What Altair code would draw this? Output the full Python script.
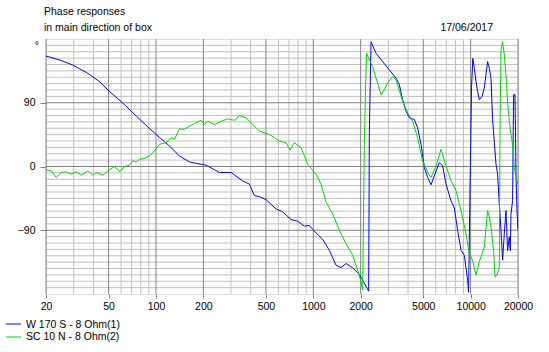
import altair as alt
import pandas as pd

# ---- data ----
blue_freq = [20, 24.4, 29.5, 36.2, 43.7, 50.6, 61.2, 75.2, 90.9, 105.2, 121.8, 141, 163.2, 208.4,
             253.2, 300.4, 354.3, 392.6, 422.5, 454.4, 501, 580, 636, 722, 792, 878, 944, 991,
             1147, 1265, 1395, 1501, 1616, 1779, 1962, 2059, 2183, 2248, 2271, 2328, 2505, 2759,
             3043, 3357, 3524, 3697, 3885, 4078, 4387, 4604, 4838, 5078, 5330, 5602, 5878, 6324,
             6637, 6977, 7508, 7877, 8267, 8688, 9116, 9568, 9707, 9880, 10130, 10325, 10554,
             10820, 11073, 11352, 11811, 12214, 12819, 13141, 13472, 13790, 14493, 14838, 15212,
             15596, 15964, 16366, 16778, 17174, 17606, 17868, 18049, 18478, 18750, 19137, 19422,
             19707, 20000]
blue_deg = [156.0, 150.4, 143.4, 132.6, 120.0, 106.0, 90.1, 70.9, 53.7, 41.1, 28.9, 14.9, 6.4, 1.8,
            -8.4, -8.4, -20.2, -24.8, -41.2, -42.6, -46.8, -59.9, -63.7, -74.9, -77.1, -84.1, -83.3,
            -88.9, -102.9, -118.3, -139.4, -142.6, -137.0, -143.0, -152.4, -160.4, -171.0, -176.0,
            47.7, 176.1, 159.8, 148.1, 136.4, 124.8, 115.4, 94.4, 78.0, 68.7, 66.3, 54.7, 31.3,
            -1.4, -15.4, -25.8, -13.2, 5.6, 0.8, -24.8, -48.6, -58.5, -90.3, -118.3, -125.3, -160.4,
            -177.6, -52.9, 111.2, 152.8, 138.8, 120.0, 106.0, 94.4, 99.0, 110.8, 148.1, 138.8, 124.8,
            66.3, 3.2, -10.8, -52.9, -90.3, -132.3, -94.9, -62.2, -118.7, -99.1, -118.7, -66.9,
            -48.2, 101.4, 101.4, -10.8, -62.2, -90.3]

green_freq = [20, 21.6, 23.2, 25.0, 26.9, 28.9, 31.1, 33.5, 36.9, 39.7, 41.7, 45.9, 50.6, 54.5,
              58.6, 63.1, 67.8, 71.2, 74.8, 78.5, 84.5, 90.9, 97.8, 105.2, 116.1, 124.9, 131.1,
              141.0, 151.7, 163.2, 175.6, 193.6, 203.2, 213.3, 235.3, 259.5, 285.8, 315.2, 339.2,
              374.2, 412.1, 454.4, 526, 609, 671, 712, 758, 836, 921, 1041, 1120, 1206, 1328, 1465,
              1616, 1779, 1914, 2012, 2059, 2110, 2151, 2183, 2271, 2384, 2505, 2696, 2829, 2968,
              3193, 3357, 3697, 3978, 4279, 4604, 4954, 5330, 5602, 6026, 6484, 6977, 7508, 8075,
              8688, 9346, 9808, 10295, 10820, 11352, 12214, 12819, 13141, 13472, 13996, 14290,
              14714, 15212, 15365, 15596, 15964, 16366, 16778, 17174, 17606, 18049, 18478, 18946,
              19422, 20000]
green_deg = [-4.8, -6.2, -15.4, -8.4, -7.6, -10.8, -7.6, -12.2, -6.2, -12.2, -8.4, -12.2, -4.8, 0.0,
             -7.6, 0.0, 1.8, 7.9, 6.4, 10.2, 11.2, 14.9, 21.9, 31.3, 33.6, 40.7, 38.3, 53.3, 52.3,
             56.9, 60.7, 65.3, 59.3, 63.9, 59.3, 63.9, 67.3, 65.3, 71.9, 68.7, 59.3, 49.9, 45.3,
             35.9, 33.6, 23.3, 33.6, 26.6, 3.2, -10.8, -24.8, -50.5, -66.9, -90.3, -108.9, -125.3,
             -146.3, -162.6, -174.4, 31.1, 115.4, 159.8, 150.4, 141.0, 124.8, 101.4, 108.4, 117.8,
             127.0, 122.4, 92.0, 75.7, 63.9, 40.7, 7.9, -8.4, -15.4, 0.8, 24.3, 0.8, -20.2, -34.2,
             -62.2, -94.9, -123.0, -132.4, -153.4, -134.6, -113.6, -62.2, -71.1, -85.5, -118.7,
             -155.6, -153.4, -141.6, 45.3, 164.5, 176.1, 157.4, 129.4, 92.0, 63.9, 45.3, 31.3,
             -1.4, -15.4, -24.8]

series_names = ["W 170 S - 8 Ohm(1)", "SC 10 N - 8 Ohm(2)"]
series_colors = ["#0000ff", "#00d800"]

x_major = [20, 50, 100, 200, 500, 1000, 2000, 5000, 10000, 20000]
x_minor = [30, 40, 60, 70, 80, 90, 300, 400, 600, 700, 800, 900,
           3000, 4000, 6000, 7000, 8000, 9000]
y_major = [-90, 0, 90]
y_minor = [v for v in range(-171, 180, 9) if v not in (-90, 0, 90)]

title_lines = ["Phase responses", "in main direction of box"]
date_text = "17/06/2017"
unit_text = "°"

FONT = "Liberation Sans"
FS = 10.5
W, H = 472, 255

df = pd.concat([
    pd.DataFrame({"freq": blue_freq, "deg": blue_deg, "series": series_names[0], "order": range(len(blue_freq))}),
    pd.DataFrame({"freq": green_freq, "deg": green_deg, "series": series_names[1], "order": range(len(green_freq))}),
])

xscale = alt.Scale(type="log", domain=[20, 20000], nice=False)
yscale = alt.Scale(domain=[-180, 180], nice=False, zero=False)

xaxis = alt.Axis(values=x_major, format="d", labelFont=FONT, labelFontSize=FS,
                 labelColor="black", tickColor="#808080", tickSize=4, labelPadding=3,
                 domain=False, grid=False, labelFlush=False, labelOverlap=False, title=None)
yaxis = alt.Axis(values=y_major, labelFont=FONT, labelFontSize=FS, labelColor="black",
                 tickColor="#808080", tickSize=6, labelPadding=5, domain=False,
                 grid=False, title=None)

vminor = alt.Chart(pd.DataFrame({"freq": x_minor})).mark_rule(color="#c0c0c0", strokeWidth=1).encode(
    x=alt.X("freq:Q", scale=xscale, axis=xaxis))
vmajor = alt.Chart(pd.DataFrame({"freq": x_major})).mark_rule(color="#808080", strokeWidth=1).encode(
    x=alt.X("freq:Q", scale=xscale, axis=xaxis))
hminor = alt.Chart(pd.DataFrame({"deg": y_minor})).mark_rule(color="#c0c0c0", strokeWidth=1).encode(
    y=alt.Y("deg:Q", scale=yscale, axis=yaxis))
hmajor = alt.Chart(pd.DataFrame({"deg": y_major})).mark_rule(color="#808080", strokeWidth=1).encode(
    y=alt.Y("deg:Q", scale=yscale, axis=yaxis))

lines = alt.Chart(df).mark_line(strokeWidth=1, clip=True, interpolate="linear").encode(
    x=alt.X("freq:Q", scale=xscale, axis=xaxis),
    y=alt.Y("deg:Q", scale=yscale, axis=yaxis),
    color=alt.Color("series:N", scale=alt.Scale(domain=series_names, range=series_colors), legend=None),
    order="order:Q",
)

def txt(s, x, y, align="left"):
    return alt.Chart(pd.DataFrame({"t": [s]})).mark_text(
        font=FONT, fontSize=FS, color="black", align=align, baseline="alphabetic").encode(
        text="t:N", x=alt.value(x), y=alt.value(y))

texts = [
    txt(title_lines[0], -2, -24),
    txt(title_lines[1], -2, -8),
    txt(date_text, 447, -8, "right"),
    txt(unit_text, -7, 10, "right"),
    txt(series_names[0], -20, 289),
    txt(series_names[1], -20, 301),
]

leg_blue = alt.Chart(pd.DataFrame({"a": [0]})).mark_rule(color=series_colors[0], strokeWidth=1).encode(
    x=alt.value(-40), x2=alt.value(-25), y=alt.value(285))
leg_green = alt.Chart(pd.DataFrame({"a": [0]})).mark_rule(color=series_colors[1], strokeWidth=1).encode(
    x=alt.value(-40), x2=alt.value(-25), y=alt.value(298))

chart = alt.layer(vminor, hminor, vmajor, hmajor, lines, leg_blue, leg_green, *texts).properties(
    width=W, height=H,
    autosize=alt.AutoSizeParams(type="none"),
    padding={"left": 46, "top": 39, "right": 549 - 46 - W, "bottom": 352 - 39 - H},
).configure_view(stroke="#808080", strokeWidth=1).configure(background="white")

chart.save("out.html", embed_options={"renderer": "svg", "actions": False})
